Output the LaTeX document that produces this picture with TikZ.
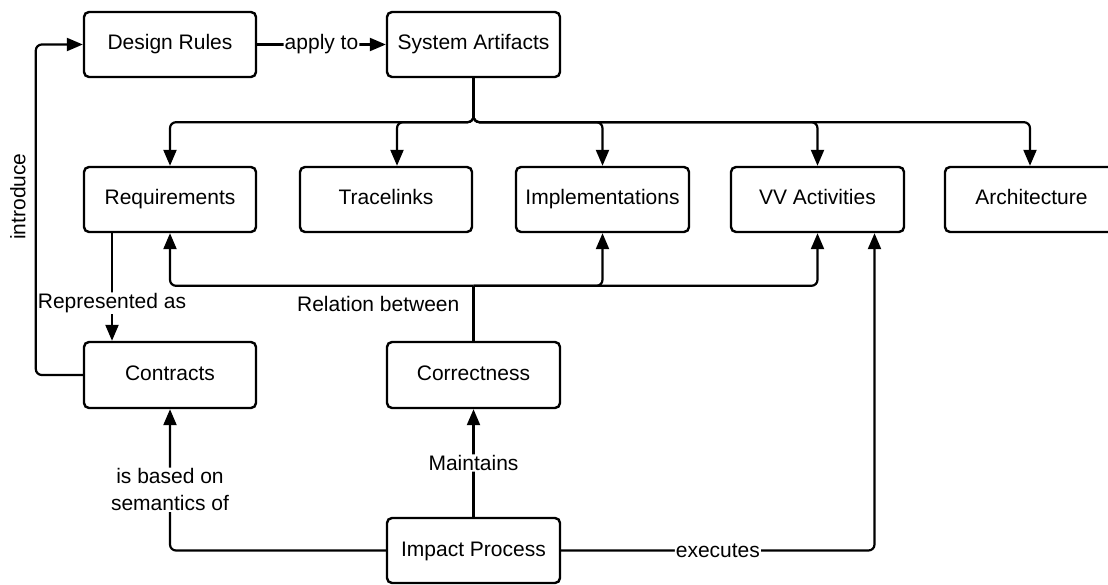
\documentclass[tikz,border=0pt]{standalone}
\usepackage{fontspec}
\setmainfont{Liberation Sans}
\usetikzlibrary{arrows.meta}
\tikzset{
  box/.style={draw, line width=2.4pt, rounded corners=5pt, minimum width=172pt, minimum height=65pt, inner sep=0pt, text height=15pt, text depth=4pt, font=\fontsize{21}{25}\selectfont, fill=white},
  conn/.style={line width=2.2pt, rounded corners=6pt},
  arr/.style={conn, -{Triangle[length=16pt,width=13pt]}},
  lbl/.style={fill=white, inner sep=1pt, font=\fontsize{21}{27}\selectfont}
}
\begin{document}
\begin{tikzpicture}[x=1pt,y=-1pt]
\useasboundingbox (0,0) rectangle (1108,585);
\clip (0,0) rectangle (1108,585);
% nodes
\node[box] (dr) at (170,44.5) {Design Rules};
\node[box, minimum width=173pt] (sa) at (473.5,44.5) {System Artifacts};
\node[box] (req) at (170,199.5) {Requirements};
\node[box] (trace) at (386,199.5) {Tracelinks};
\node[box, minimum width=173pt] (impl) at (602.5,199.5) {Implementations};
\node[box, minimum width=173pt] (vv) at (817.5,199.5) {VV Activities};
\node[box, minimum width=173pt] (arch) at (1031.5,199.5) {Architecture};
\node[box, minimum height=66pt] (con) at (170,375) {Contracts};
\node[box, minimum width=173pt, minimum height=66pt] (cor) at (473.5,375) {Correctness};
\node[box, minimum width=173pt] (imp) at (473.5,550.5) {Impact Process};
% design rules -> system artifacts
\draw[arr] (dr) -- node[lbl]{apply to} (sa);
% system artifacts branches
\draw[arr] (sa.south) -- ++(0,44) -| (req.north);
\draw[arr] (sa.south) -- ++(0,44) -| ([xshift=11pt]trace.north);
\draw[arr] (sa.south) -- ++(0,44) -| (impl.north);
\draw[arr] (sa.south) -- ++(0,44) -| (vv.north);
\draw[arr] (sa.south) -- ++(0,44) -| ([xshift=-1.5pt]arch.north);
% correctness relations
\draw[conn] (cor.north) -- node[pos=0.67, anchor=east, inner sep=0pt, xshift=-13pt, font=\fontsize{21}{25}\selectfont]{Relation between} ++(0,-55) coordinate (cj);
\draw[arr] (cj) -| (req.south);
\draw[arr] (cj) -| (impl.south);
\draw[arr] (cj) -| (vv.south);
% requirements -> contracts
\draw[arr] ([xshift=-58pt]req.south) -- node[lbl, pos=0.65]{Represented as} ([xshift=-58pt]con.north);
% contracts -> design rules
\draw[arr] (con.west) -- ++(-47,0) |- node[pos=0.27, anchor=south, rotate=90, inner sep=0pt, yshift=9pt, font=\fontsize{21}{25}\selectfont]{introduce} (dr.west);
% impact process
\draw[arr] (imp.north) -- node[lbl]{Maintains} (cor.south);
\draw[arr] (imp.west) -| node[lbl, pos=0.715, align=center]{is based on\\semantics of} (con.south);
\draw[arr] (imp.east) -| node[lbl, pos=0.25]{executes} ([xshift=57pt]vv.south);
\end{tikzpicture}
\end{document}
